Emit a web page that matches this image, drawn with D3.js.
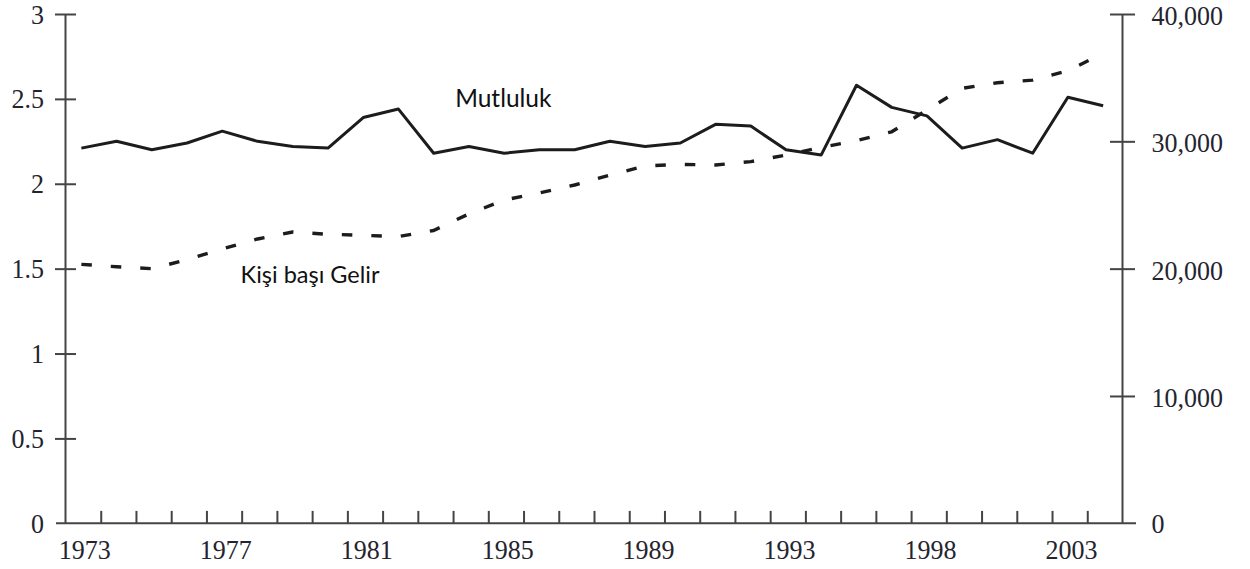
<!DOCTYPE html>
<html>
<head>
<meta charset="utf-8">
<script src="https://cdn.jsdelivr.net/npm/d3@7"></script>
<style>
  html, body { margin: 0; padding: 0; background: #fff; }
  svg { display: block; }
</style>
</head>
<body>
<svg id="chart" width="1250" height="569"></svg>
<script>
// ---- data ----
const categories = [0,1,2,3,4,5,6,7,8,9,10,11,12,13,14,15,16,17,18,19,20,21,22,23,24,25,26,27,28,29];
const happiness = [2.21,2.25,2.20,2.24,2.31,2.25,2.22,2.21,2.39,2.44,2.18,2.22,2.18,2.20,2.20,2.25,2.22,2.24,2.35,2.34,2.20,2.17,2.58,2.45,2.40,2.21,2.26,2.18,2.51,2.46];
const income = [20340,20150,20000,20700,21550,22330,22880,22700,22620,22520,23000,24300,25390,25940,26570,27350,28060,28190,28140,28410,28920,29530,30050,30750,32460,34160,34600,34810,35550,36900];
const xTickLabels = ["1973","1977","1981","1985","1989","1993","1998","2003"];
const xTickLabelIndex = [0,4,8,12,16,20,24,28];
const leftTicks = [0,0.5,1,1.5,2,2.5,3];
const rightTicks = [0,10000,20000,30000,40000];
const seriesLabels = ["Mutluluk","Kişi başı Gelir"];

// ---- layout ----
const svg = d3.select("#chart");
const axisColor = "#444";
const lineColor = "#1c1c1c";
const textColor = "#24242e";

const x = d3.scaleLinear().domain([-0.45, 29.55]).range([65.5, 1122.5]);
const yL = d3.scaleLinear().domain([0, 3]).range([523.3, 14]);
const yR = d3.scaleLinear().domain([0, 40000]).range([523.3, 14]);

const serif = "'Liberation Serif', 'DejaVu Serif', serif";
const stretch = 1.06;

// bottom axis (ticks pointing up, between points)
const tickPositions = d3.range(-0.45, 29.6, 1);
const bottom = svg.append("g").attr("transform", `translate(0,${yL(0)})`)
  .call(d3.axisBottom(x).tickValues(tickPositions.slice(1, -1)).tickSize(-12.4).tickFormat(""));
bottom.select(".domain").remove();
bottom.selectAll("line").attr("stroke", axisColor).attr("stroke-width", 2);
svg.append("line")
  .attr("x1", 56).attr("x2", 1136)
  .attr("y1", yL(0)).attr("y2", yL(0))
  .attr("stroke", axisColor).attr("stroke-width", 2);

// year labels
svg.append("g").selectAll("text").data(xTickLabelIndex).join("text")
  .attr("transform", d => `translate(${x(d) + 3.5},${yL(0) + 36}) scale(1,${stretch})`)
  .attr("text-anchor", "middle")
  .attr("font-family", serif).attr("font-size", 26)
  .attr("fill", textColor)
  .text((d, i) => xTickLabels[i]);

// left axis
const left = svg.append("g").attr("transform", `translate(${x(-0.45)},0)`)
  .call(d3.axisLeft(yL).tickValues(leftTicks.slice(1)).tickSize(10.5).tickFormat(""));
left.select(".domain").remove();
left.selectAll(".tick line").attr("x2", -10.5).attr("x1", 10.5).attr("stroke", axisColor).attr("stroke-width", 2);
svg.append("line").attr("x1", x(-0.45)).attr("x2", x(-0.45))
  .attr("y1", yL(3)).attr("y2", yL(0))
  .attr("stroke", axisColor).attr("stroke-width", 2);
svg.append("g").selectAll("text").data(leftTicks).join("text")
  .attr("transform", d => `translate(44,${yL(d) + 9.5}) scale(1,${stretch})`)
  .attr("text-anchor", "end")
  .attr("font-family", serif).attr("font-size", 26)
  .attr("fill", textColor)
  .text(d => d3.format("")(d));

// right axis
const right = svg.append("g").attr("transform", `translate(${x(29.55)},0)`)
  .call(d3.axisRight(yR).tickValues(rightTicks.slice(1)).tickSize(12.5).tickFormat(""));
right.select(".domain").remove();
right.selectAll(".tick line").attr("x1", -12.5).attr("x2", 12.5).attr("stroke", axisColor).attr("stroke-width", 2);
svg.append("line").attr("x1", x(29.55)).attr("x2", x(29.55))
  .attr("y1", yR(40000)).attr("y2", yR(0))
  .attr("stroke", axisColor).attr("stroke-width", 2);
svg.append("g").selectAll("text").data(rightTicks).join("text")
  .attr("transform", d => `translate(1151.5,${yR(d) + (d === 0 ? 10 : 11)}) scale(1,${stretch})`)
  .attr("text-anchor", "start")
  .attr("font-family", serif).attr("font-size", 26)
  .attr("fill", textColor)
  .text(d => d3.format(",")(d));

// lines
const lineH = d3.line().x((d, i) => x(categories[i])).y(d => yL(d));
const lineI = d3.line().x((d, i) => x(categories[i])).y(d => yR(d));

svg.append("path").datum(income)
  .attr("d", lineI)
  .attr("fill", "none").attr("stroke", lineColor)
  .attr("stroke-width", 3.4).attr("stroke-dasharray", "10.5 19")
  .attr("stroke-linejoin", "round");

svg.append("path").datum(happiness)
  .attr("d", lineH)
  .attr("fill", "none").attr("stroke", lineColor)
  .attr("stroke-width", 3).attr("stroke-linejoin", "round");

// series labels
const sans = "Lato, 'Open Sans', 'Noto Sans', sans-serif";
svg.append("text")
  .attr("x", x(10.61)).attr("y", yL(2.452))
  .attr("font-family", sans).attr("font-size", 24.5).attr("fill", "#111")
  .text(seriesLabels[0]);
svg.append("text")
  .attr("x", x(4.52)).attr("y", yL(1.415))
  .attr("font-family", sans).attr("font-size", 23.5).attr("fill", "#111")
  .text(seriesLabels[1]);
</script>
</body>
</html>
